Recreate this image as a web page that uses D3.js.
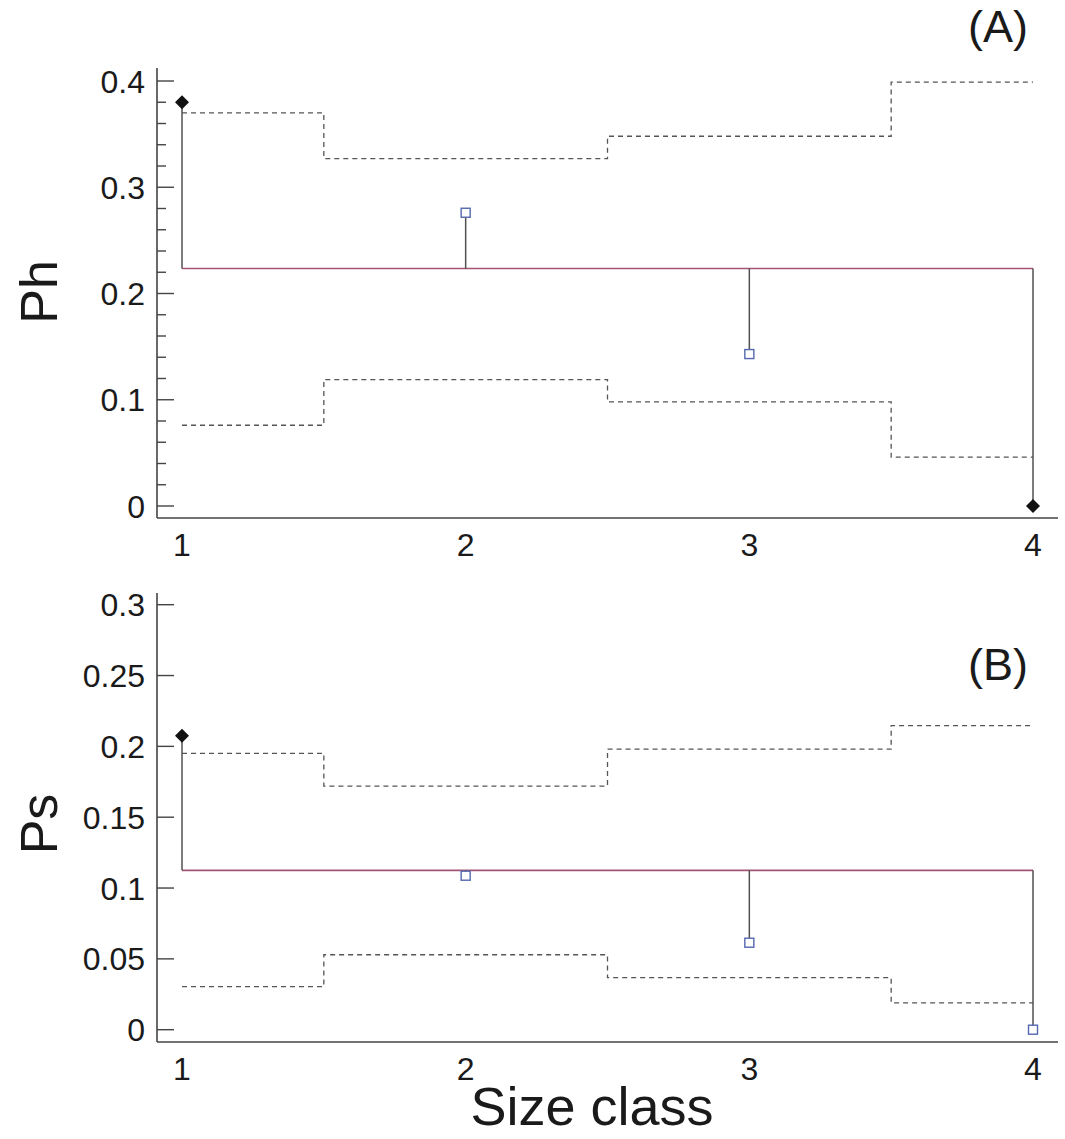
<!DOCTYPE html>
<html><head><meta charset="utf-8">
<script src="https://cdn.jsdelivr.net/npm/d3@7"></script>
<style>body{margin:0;background:#fff}svg{display:block;font-family:Arial,"Liberation Sans",sans-serif}</style>
</head><body><svg id="c" width="1065" height="1139"></svg>
<script>
const sizeClasses = [1, 2, 3, 4];
// Panel A (Ph)
const phValues = [0.380, 0.276, 0.143, 0.0];
const phMean = 0.2235;
const phUpper = [0.370, 0.327, 0.348, 0.399];
const phLower = [0.076, 0.119, 0.098, 0.046];
const phOutside = [true, false, false, true];
const phTicks = [0, 0.1, 0.2, 0.3, 0.4];
const phTickLabels = ["0", "0.1", "0.2", "0.3", "0.4"];
// Panel B (Ps)
const psValues = [0.2075, 0.1087, 0.0614, 0.0];
const psMean = 0.1125;
const psUpper = [0.195, 0.172, 0.198, 0.2146];
const psLower = [0.0304, 0.0529, 0.0367, 0.019];
const psOutside = [true, false, false, false];
const psTicks = [0, 0.05, 0.1, 0.15, 0.2, 0.25, 0.3];
const psTickLabels = ["0", "0.05", "0.1", "0.15", "0.2", "0.25", "0.3"];
const xTickLabels = ["1", "2", "3", "4"];

const svg = d3.select("#c");
const x = d3.scaleLinear().domain([1, 4]).range([182, 1033]);
const axisColor = "#444";

function panel(o) {
  const y = d3.scaleLinear().domain(o.domain).range(o.range);
  const g = svg.append("g");
  const xl = 157, xr = 1058;
  g.append("line").attr("x1", xl).attr("x2", xl).attr("y1", o.axisTop).attr("y2", o.axisBottom)
    .attr("stroke", axisColor).attr("stroke-width", 1.6);
  g.append("line").attr("x1", xl).attr("x2", xr).attr("y1", o.axisBottom).attr("y2", o.axisBottom)
    .attr("stroke", axisColor).attr("stroke-width", 1.6);
  if (o.minor) {
    g.selectAll(".mt").data(o.minor).enter().append("line")
      .attr("x1", xl).attr("x2", xl + 9).attr("y1", d => y(d)).attr("y2", d => y(d))
      .attr("stroke", axisColor).attr("stroke-width", 1.4);
  }
  g.selectAll(".Mt").data(o.ticks).enter().append("line")
    .attr("x1", xl).attr("x2", xl + 17).attr("y1", d => y(d)).attr("y2", d => y(d))
    .attr("stroke", axisColor).attr("stroke-width", 1.4);
  g.selectAll(".tl").data(o.ticks).enter().append("text")
    .attr("x", 145).attr("y", d => y(d)).attr("dy", "0.36em")
    .attr("text-anchor", "end").attr("font-size", 32).attr("fill", "#1a1a1a")
    .text((d, i) => o.tickLabels[i]);
  g.selectAll(".xl").data(sizeClasses).enter().append("text")
    .attr("x", d => x(d)).attr("y", o.axisBottom + 38)
    .attr("text-anchor", "middle").attr("font-size", 32).attr("fill", "#1a1a1a")
    .text((d, i) => xTickLabels[i]);
  function stepPath(vals) {
    const pts = [];
    vals.forEach((v, i) => {
      const a = i === 0 ? sizeClasses[i] : sizeClasses[i] - 0.5;
      const b = i === vals.length - 1 ? sizeClasses[i] : sizeClasses[i] + 0.5;
      pts.push([x(a), y(v)], [x(b), y(v)]);
    });
    return d3.line()(pts);
  }
  [o.upper, o.lower].forEach(vals => {
    g.append("path").attr("d", stepPath(vals)).attr("fill", "none")
      .attr("stroke", "#555").attr("stroke-width", 1.3).attr("stroke-dasharray", "5,4");
  });
  g.append("line").attr("x1", x(1)).attr("x2", x(4)).attr("y1", y(o.mean)).attr("y2", y(o.mean))
    .attr("stroke", "#a45473").attr("stroke-width", 1.6);
  g.selectAll(".st").data(o.values).enter().append("line")
    .attr("x1", (d, i) => x(sizeClasses[i])).attr("x2", (d, i) => x(sizeClasses[i]))
    .attr("y1", y(o.mean)).attr("y2", d => y(d))
    .attr("stroke", "#505050").attr("stroke-width", 1.5);
  o.values.forEach((v, i) => {
    const cx = x(sizeClasses[i]), cy = y(v);
    if (o.outside[i]) {
      g.append("path").attr("d", `M${cx},${cy - 7}L${cx + 7},${cy}L${cx},${cy + 7}L${cx - 7},${cy}Z`)
        .attr("fill", "#111");
    } else {
      g.append("rect").attr("x", cx - 4.5).attr("y", cy - 4.5).attr("width", 9).attr("height", 9)
        .attr("fill", "#fff").attr("stroke", "#5468b0").attr("stroke-width", 1.4);
    }
  });
  g.append("text").attr("transform", `translate(57,${o.labelY}) rotate(-90)`)
    .attr("text-anchor", "middle").attr("font-size", 52).attr("fill", "#1a1a1a").text(o.ylabel);
  g.append("text").attr("x", 1028).attr("y", o.tagY).attr("text-anchor", "end")
    .attr("font-size", 45).attr("fill", "#1a1a1a").text(o.tag);
}

panel({
  domain: [0, 0.4], range: [506, 81], axisTop: 68, axisBottom: 518,
  ticks: phTicks, tickLabels: phTickLabels,
  minor: d3.range(0, 0.41, 0.02).filter(v => Math.abs(v * 10 - Math.round(v * 10)) > 1e-6),
  upper: phUpper, lower: phLower, mean: phMean, values: phValues, outside: phOutside,
  ylabel: "Ph", labelY: 292, tag: "(A)", tagY: 42
});
panel({
  domain: [0, 0.3], range: [1029.7, 604.7], axisTop: 593, axisBottom: 1042,
  ticks: psTicks, tickLabels: psTickLabels, minor: null,
  upper: psUpper, lower: psLower, mean: psMean, values: psValues, outside: psOutside,
  ylabel: "Ps", labelY: 824, tag: "(B)", tagY: 680
});
svg.append("text").attr("x", 592).attr("y", 1125).attr("text-anchor", "middle")
  .attr("font-size", 54).attr("fill", "#1a1a1a").text("Size class");
</script></body></html>
